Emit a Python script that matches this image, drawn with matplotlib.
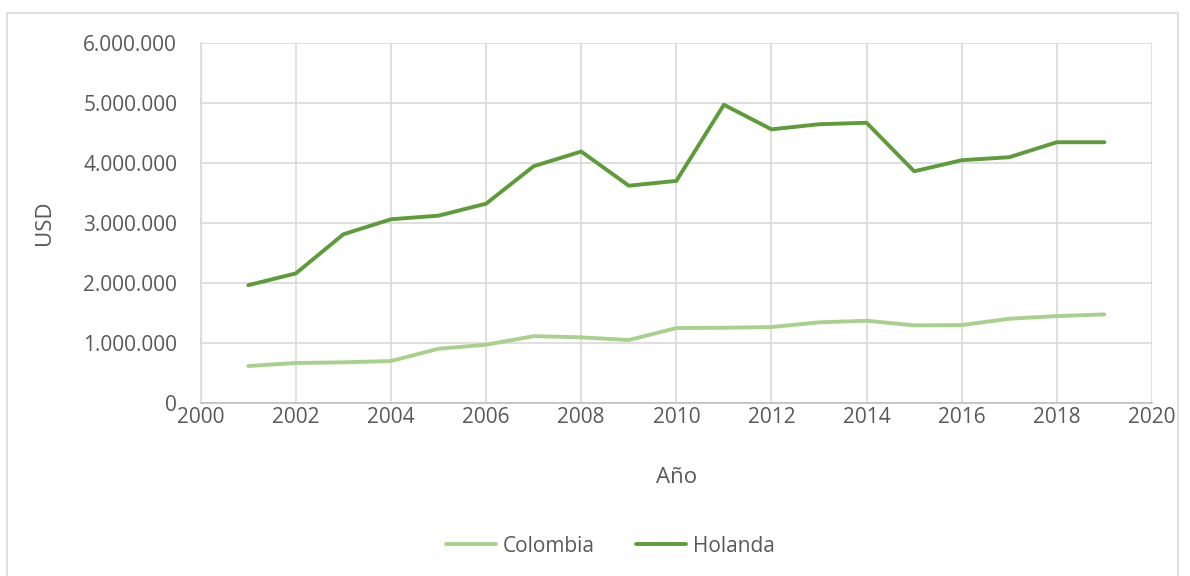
import matplotlib.pyplot as plt
from matplotlib.ticker import FuncFormatter
from matplotlib.patches import Rectangle

anios = list(range(2001, 2020))
colombia = [612000, 662000, 673000, 695000, 900000, 967000, 1110000, 1090000, 1045000,
            1245000, 1250000, 1262000, 1340000, 1367000, 1290000, 1295000, 1400000,
            1445000, 1473000]
holanda = [1960000, 2157000, 2810000, 3060000, 3120000, 3320000, 3945000, 4190000, 3620000,
           3700000, 4970000, 4560000, 4645000, 4670000, 3860000, 4045000, 4095000,
           4345000, 4345000]

color_col = '#a9d18e'
color_hol = '#5e9c3a'
gris_texto = '#595959'

plt.rcParams['font.family'] = ['Open Sans', 'DejaVu Sans']

fig = plt.figure(figsize=(11.9, 5.76), dpi=100)
ax = fig.add_axes([0.1687, 0.3009, 0.7993, 0.6244])

ax.plot(anios, colombia, color=color_col, linewidth=2.8, label='Colombia', solid_capstyle='round')
ax.plot(anios, holanda, color=color_hol, linewidth=2.8, label='Holanda', solid_capstyle='round')

ax.set_xlim(2000, 2020)
ax.set_ylim(0, 6000000)
ax.set_xticks(range(2000, 2021, 2))
ax.set_yticks(range(0, 6000001, 1000000))
ax.yaxis.set_major_formatter(FuncFormatter(lambda v, p: f'{int(v):,}'.replace(',', '.')))

ax.grid(True, color='#d9d9d9', linewidth=1.2)
ax.set_axisbelow(True)
for lado in ['top', 'right']:
    ax.spines[lado].set_visible(False)
ax.spines['left'].set_color('#d9d9d9')
ax.spines['left'].set_linewidth(1.2)
ax.spines['bottom'].set_color('#bfbfbf')
ax.spines['bottom'].set_linewidth(1.2)

ax.tick_params(axis='both', length=0, labelsize=15, labelcolor=gris_texto)
ax.tick_params(axis='x', pad=3)
ax.tick_params(axis='y', pad=17)

ax.set_xlabel('Año', fontsize=16, color=gris_texto, labelpad=28)
ax.set_ylabel('USD', fontsize=16, color=gris_texto, labelpad=20)

ax.legend(loc='center', bbox_to_anchor=(0.513, 0.052), bbox_transform=fig.transFigure,
          ncol=2, frameon=False, fontsize=15, labelcolor=gris_texto,
          handlelength=2.4, handletextpad=0.3, columnspacing=2.0)

# marco exterior del gráfico
fig.patches.append(Rectangle((7 / 1190, -0.05), 1171 / 1190, 1 - 13 / 576 + 0.05,
                             transform=fig.transFigure, fill=False,
                             edgecolor='#d9d9d9', linewidth=1.2))

fig.savefig('out.png', dpi=100)
